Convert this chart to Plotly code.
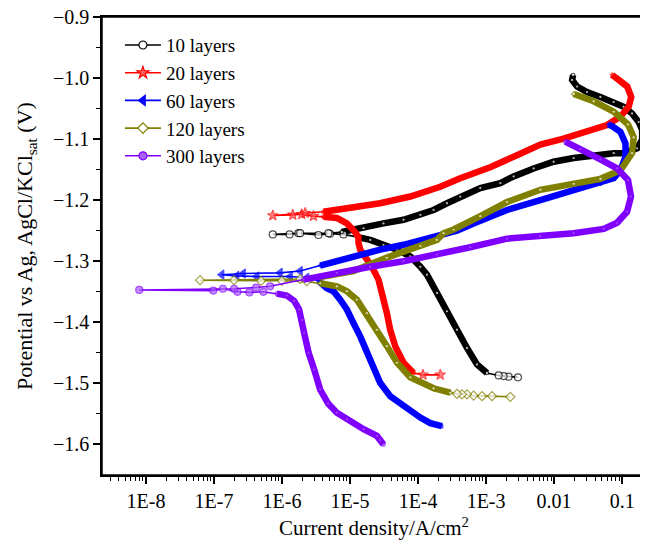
import plotly.graph_objects as go

# ---------------- data ----------------
series_names = ["10 layers", "20 layers", "60 layers", "120 layers", "300 layers"]

# current density (A/cm2) and potential (V vs Ag/AgCl/KCl sat)
i_10 = [2.94e-3, 2.14e-3, 1.81e-3, 1.53e-3, 1.03e-3, 7.35e-4, 5.24e-4, 3.73e-4, 2.66e-4, 1.90e-4,
        1.35e-4, 1.08e-4, 7.67e-5, 4.89e-5, 3.10e-5, 1.98e-5, 1.26e-5, 8.0e-6, 5.09e-6, 3.43e-6,
        1.74e-6, 1.29e-6, 7.31e-7, 1.85e-6, 4.81e-6, 7.55e-6, 1.58e-5, 3.10e-5, 6.11e-5, 1.08e-4,
        1.69e-4, 2.66e-4, 4.17e-4, 8.22e-4, 1.62e-3, 2.54e-3, 5.0e-3, 9.84e-3, 0.0194, 0.0382,
        0.0752, 0.105, 0.166, 0.197, 0.197, 0.175, 0.140, 0.105, 0.0752, 0.0479,
        0.0305, 0.0218, 0.0184, 0.0190]
e_10 = [-1.490, -1.489, -1.488, -1.487, -1.483, -1.469, -1.442, -1.412, -1.382, -1.352,
        -1.322, -1.309, -1.292, -1.281, -1.273, -1.265, -1.260, -1.256, -1.255, -1.257,
        -1.254, -1.256, -1.256, -1.254, -1.254, -1.252, -1.246, -1.238, -1.232, -1.224,
        -1.216, -1.205, -1.194, -1.180, -1.172, -1.161, -1.148, -1.137, -1.131, -1.126,
        -1.123, -1.123, -1.115, -1.101, -1.085, -1.072, -1.058, -1.047, -1.039, -1.031,
        -1.023, -1.014, -1.003, -0.995]

i_20 = [2.12e-4, 1.18e-4, 8.57e-5, 6.11e-5, 4.61e-5, 3.89e-5, 3.48e-5, 3.10e-5, 2.62e-5, 2.09e-5,
        1.67e-5, 1.41e-5, 1.33e-5, 1.33e-5, 1.12e-5, 8.97e-6, 6.40e-6, 4.06e-6, 2.90e-6, 1.95e-6,
        1.44e-6, 7.31e-7, 2.19e-6, 4.06e-6, 1.12e-5, 2.77e-5, 7.67e-5, 2.12e-4, 4.17e-4, 1.15e-3,
        3.18e-3, 6.28e-3, 0.0138, 0.0305, 0.0601, 0.0944, 0.125, 0.136, 0.119, 0.0891, 0.0713]
e_20 = [-1.486, -1.486, -1.483, -1.466, -1.439, -1.412, -1.385, -1.358, -1.330, -1.309,
        -1.292, -1.281, -1.270, -1.260, -1.249, -1.238, -1.229, -1.227, -1.226, -1.223,
        -1.224, -1.225, -1.221, -1.219, -1.213, -1.205, -1.194, -1.178, -1.164, -1.146,
        -1.124, -1.109, -1.099, -1.088, -1.077, -1.063, -1.047, -1.031, -1.014, -1.003, -0.995]

i_60 = [2.24e-4, 1.51e-4, 1.08e-4, 6.11e-5, 3.89e-5, 2.77e-5, 2.21e-5, 1.77e-5, 1.41e-5, 1.12e-5,
        8.97e-6, 7.16e-6, 5.70e-6, 4.56e-6, 3.43e-6, 2.31e-6, 1.32e-6, 4.26e-7, 2.16e-7, 1.30e-7,
        2.69e-7, 9.37e-7, 1.85e-6, 3.63e-6, 1.12e-5, 2.77e-5, 6.11e-5, 1.08e-4, 1.89e-4, 3.73e-4,
        6.55e-4, 2.03e-3, 6.28e-3, 0.0194, 0.0479, 0.0752, 0.0944, 0.112, 0.112, 0.0944,
        0.0720, 0.0627]
e_60 = [-1.570, -1.565, -1.556, -1.537, -1.521, -1.499, -1.472, -1.445, -1.423, -1.401,
        -1.379, -1.363, -1.349, -1.344, -1.332, -1.327, -1.325, -1.325, -1.324, -1.322,
        -1.320, -1.319, -1.316, -1.307, -1.292, -1.281, -1.273, -1.266, -1.258, -1.250,
        -1.238, -1.216, -1.200, -1.184, -1.173, -1.164, -1.151, -1.129, -1.107, -1.088,
        -1.079, -1.076]

i_120 = [2.27e-3, 1.22e-3, 8.71e-4, 6.55e-4, 5.24e-4, 4.42e-4, 3.73e-4, 2.97e-4, 1.69e-4, 7.67e-5,
         4.89e-5, 3.48e-5, 2.48e-5, 1.77e-5, 1.26e-5, 8.97e-6, 6.40e-6, 3.63e-6, 2.31e-6, 9.93e-7,
         4.92e-7, 1.97e-7, 6.24e-8, 1.85e-6, 3.63e-6, 1.12e-5, 3.48e-5, 1.08e-4, 1.89e-4, 2.37e-4,
         3.33e-4, 8.22e-4, 2.03e-3, 6.28e-3, 0.0194, 0.0479, 0.0944, 0.140, 0.148, 0.122,
         0.0752, 0.0382, 0.0194]
e_120 = [-1.522, -1.521, -1.521, -1.520, -1.518, -1.518, -1.517, -1.515, -1.508, -1.490,
         -1.466, -1.439, -1.412, -1.385, -1.363, -1.349, -1.341, -1.336, -1.333, -1.332,
         -1.332, -1.331, -1.331, -1.329, -1.326, -1.316, -1.294, -1.275, -1.265, -1.254,
         -1.248, -1.226, -1.203, -1.183, -1.173, -1.165, -1.151, -1.123, -1.097, -1.076,
         -1.055, -1.038, -1.026]

i_300 = [3.10e-5, 2.77e-5, 2.48e-5, 1.58e-5, 8.97e-6, 6.40e-6, 4.76e-6, 3.63e-6, 2.96e-6, 2.46e-6,
         2.11e-6, 1.97e-6, 1.78e-6, 1.51e-6, 1.17e-6, 8.37e-7, 5.32e-7, 3.31e-7, 2.21e-7, 1.35e-7,
         9.77e-8, 7.96e-9, 1.97e-7, 4.16e-7, 6.68e-7, 2.07e-6, 6.40e-6, 1.98e-5, 6.11e-5, 1.89e-4,
         5.86e-4, 2.03e-3, 6.28e-3, 0.0194, 0.0536, 0.0843, 0.118, 0.135, 0.122, 0.0843,
         0.0479, 0.0243, 0.0146]
e_300 = [-1.600, -1.593, -1.586, -1.575, -1.559, -1.548, -1.533, -1.510, -1.477, -1.450,
         -1.417, -1.396, -1.379, -1.365, -1.356, -1.353, -1.350, -1.351, -1.350, -1.345,
         -1.348, -1.347, -1.345, -1.343, -1.341, -1.330, -1.319, -1.309, -1.300, -1.289,
         -1.277, -1.263, -1.259, -1.254, -1.247, -1.237, -1.219, -1.194, -1.167, -1.148,
         -1.133, -1.116, -1.104]

x_tick_vals = [1e-8, 1e-7, 1e-6, 1e-5, 1e-4, 1e-3, 1e-2, 1e-1]
x_tick_text = ["1E-8", "1E-7", "1E-6", "1E-5", "1E-4", "1E-3", "0.01", "0.1"]
y_tick_vals = [-0.9, -1.0, -1.1, -1.2, -1.3, -1.4, -1.5, -1.6]
y_tick_text = ["\u22120.9", "\u22121.0", "\u22121.1", "\u22121.2", "\u22121.3", "\u22121.4", "\u22121.5", "\u22121.6"]

# ---------------- styles ----------------
FONT = "Liberation Serif"
styles = [
    dict(color="#000000", symbol="circle", fill="#ffffff", size=7, dense=[(4, 17), (25, 54)]),
    dict(color="#ff0000", symbol="star", fill="#ff6060", size=8, dense=[(2, 18), (23, 41)]),
    dict(color="#0000ff", symbol="triangle-left", fill="#0000ff", size=8, dense=[(0, 15), (23, 42)]),
    dict(color="#808000", symbol="diamond", fill="#ffffff", size=7, dense=[(7, 18), (24, 43)]),
    dict(color="#8000ff", symbol="circle", fill="#a860ff", size=7, dense=[(0, 16), (25, 43)]),
]
data = [(i_10, e_10), (i_20, e_20), (i_60, e_60), (i_120, e_120), (i_300, e_300)]

fig = go.Figure()
for name, (xs, ys), st in zip(series_names, data, styles):
    n = len(xs)
    in_dense = [any(a <= j < b for a, b in st["dense"]) for j in range(n)]
    sizes = [3.5 if d else st["size"] for d in in_dense]
    marker_line = dict(color=st["color"], width=1.2)
    # thick band where the measured points are very dense
    for a, b in st["dense"]:
        fig.add_trace(go.Scatter(x=xs[a:b], y=ys[a:b], mode="lines",
                                 line=dict(color=st["color"], width=6.5),
                                 showlegend=False, hoverinfo="skip"))
    fig.add_trace(go.Scatter(
        x=xs, y=ys, mode="lines+markers", name=name, showlegend=False,
        line=dict(color=st["color"], width=1.6),
        marker=dict(symbol=st["symbol"], size=sizes, color=st["fill"], line=marker_line),
    ))
    # legend entry (draws nothing in the plot)
    fig.add_trace(go.Scatter(
        x=[None], y=[None], mode="lines+markers", name=name,
        line=dict(color=st["color"], width=1.6),
        marker=dict(symbol=st["symbol"], size=st["size"] + 1, color=st["fill"], line=marker_line),
    ))

minor_x = [m * 10.0 ** p for p in range(-9, 0) for m in range(2, 10)]
minor_x = [v for v in minor_x if 2.3e-9 < v < 0.224]
minor_y = [-0.95, -1.05, -1.15, -1.25, -1.35, -1.45, -1.55]

# the page body has an 8px margin: margins are shifted to compensate
fig.update_layout(
    width=648, height=546,
    margin=dict(l=94, r=10, t=9, b=79),
    paper_bgcolor="white", plot_bgcolor="white",
    font=dict(family=FONT, size=20, color="black"),
    legend=dict(x=0.033, y=0.98, xanchor="left", yanchor="top",
                bgcolor="rgba(0,0,0,0)", font=dict(family=FONT, size=19),
                itemwidth=36, tracegroupgap=0),
    showlegend=True,
    shapes=[dict(type="rect", xref="paper", yref="paper", x0=0, x1=1, y0=0, y1=1,
                 line=dict(color="black", width=1.5), fillcolor="rgba(0,0,0,0)", layer="above")],
)
fig.update_xaxes(
    type="log", range=[-8.647, -0.649], automargin=False, ticklabeloverflow="allow",
    tickmode="array", tickvals=x_tick_vals, ticktext=x_tick_text,
    ticks="outside", ticklen=7, tickwidth=1.5, tickcolor="black",
    minor=dict(tickmode="array", tickvals=minor_x, ticks="outside", ticklen=4,
               tickwidth=1.2, tickcolor="black", showgrid=False),
    showline=True, linecolor="black", linewidth=1.5, mirror=True,
    showgrid=False, zeroline=False,
    tickfont=dict(family=FONT, size=20),
    title=dict(text="Current density/A/cm<sup>2</sup>", font=dict(family=FONT, size=21), standoff=10),
)
fig.update_yaxes(
    range=[-1.65, -0.9], automargin=False, ticklabeloverflow="allow",
    tickmode="array", tickvals=y_tick_vals, ticktext=y_tick_text,
    ticks="outside", ticklen=7, tickwidth=1.5, tickcolor="black",
    minor=dict(tickmode="array", tickvals=minor_y, ticks="outside", ticklen=4,
               tickwidth=1.2, tickcolor="black", showgrid=False),
    showline=True, linecolor="black", linewidth=1.5, mirror=True,
    showgrid=False, zeroline=False,
    tickfont=dict(family=FONT, size=20),
    title=dict(text="Potential vs Ag, AgCl/KCl<sub>sat</sub> (V)", font=dict(family=FONT, size=22), standoff=14),
)

fig.write_html("out.html")
